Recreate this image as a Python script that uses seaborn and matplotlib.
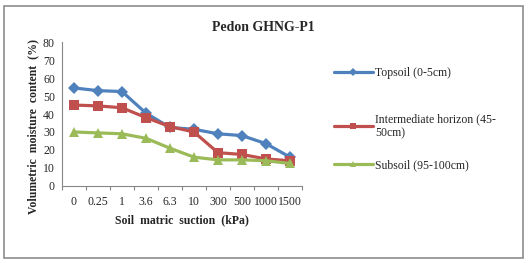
import numpy as np
import pandas as pd
import matplotlib.pyplot as plt
import seaborn as sns
from matplotlib.patches import Rectangle
from matplotlib.lines import Line2D

suction = ['0', '0.25', '1', '3.6', '6.3', '10', '300', '500', '1000', '1500']
topsoil = [54.5, 53, 52.5, 40.5, 32.5, 31.5, 29, 28, 23.5, 16]
intermediate = [45, 44.5, 43.5, 38, 33, 30, 18.5, 17.5, 15, 14]
subsoil = [30, 29.5, 29, 26.5, 21, 16, 14.5, 14.5, 14, 12.5]
names = ['Topsoil (0-5cm)', 'Intermediate horizon (45-\n50cm)', 'Subsoil (95-100cm)']

rows = []
for name, vals in zip(names, [topsoil, intermediate, subsoil]):
    for i, v in enumerate(vals):
        rows.append({'pos': i, 'series': name, 'value': v})
df = pd.DataFrame(rows)

sns.set_style('white')
plt.rcParams['font.family'] = ['Liberation Serif', 'DejaVu Serif']

colors = ['#4F81BD', '#C0504D', '#9BBB59']
markers = ['D', 's', '^']
msizes = [6, 7.5, 7]

fig = plt.figure(figsize=(5.29, 2.63), dpi=100)
ax = fig.add_axes([0.117, 0.293, 0.454, 0.547])

sns.lineplot(data=df, x='pos', y='value', hue='series', style='series',
             palette=colors, markers=markers, dashes=False, linewidth=2.3,
             markersize=7, markeredgewidth=0, ax=ax, legend=False)
for line, ms in zip(ax.get_lines(), msizes):
    line.set_markersize(ms)

ax.set_xlim(-0.5, len(suction) - 0.5)
ax.set_ylim(0, 80)
ax.set_yticks(range(0, 81, 10))
ax.set_xticks(range(len(suction)))
ax.set_xticklabels(suction)
ax.set_xticks(np.arange(-0.5, len(suction), 1), minor=True)
ax.tick_params(axis='x', which='major', length=0, labelsize=8.5, pad=7)
ax.tick_params(axis='x', which='minor', length=3, color='#868686', width=0.8)
ax.tick_params(axis='y', length=3, color='#868686', width=0.8, labelsize=8.5, pad=2)
ax.tick_params(axis='both', direction='out')
ax.xaxis.set_tick_params(which='minor', bottom=True)
for s in ['top', 'right']:
    ax.spines[s].set_visible(False)
for s in ['left', 'bottom']:
    ax.spines[s].set_color('#868686')
    ax.spines[s].set_linewidth(0.8)

ax.set_xlabel('Soil  matric  suction  (kPa)', fontsize=8.5, fontweight='bold', labelpad=5)
ax.set_ylabel('Volumetric  moisture  content  (%)', fontsize=8.5, fontweight='bold')
ax.yaxis.set_label_coords(-0.095, 0.41)
fig.text(0.497, 0.895, 'Pedon GHNG-P1', fontsize=10, fontweight='bold', ha='center', va='center')

# one legend per entry, Excel spaces them unevenly
leg_y = [73, 126, 165]
for c, m, name, y in zip(colors, markers, names, leg_y):
    h = Line2D([], [], color=c, marker=m, lw=2.3, markersize=4, markeredgewidth=0)
    fig.legend([h], [name], loc='center left', bbox_to_anchor=(0.631, 1 - y / 263),
               frameon=False, fontsize=8.5, handlelength=3.3, handletextpad=0.2,
               borderpad=0, borderaxespad=0)

fig.patches.append(Rectangle((0.008, 0.02), 0.98, 0.958, transform=fig.transFigure,
                             fill=False, edgecolor='#8c8c8c', linewidth=1.2))

fig.savefig('out.png', dpi=100)
